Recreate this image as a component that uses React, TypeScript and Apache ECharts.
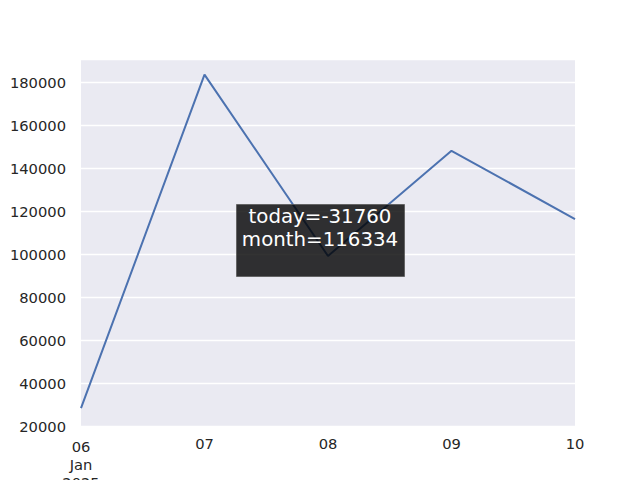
import React, { useEffect, useRef } from "react";
import * as echarts from "echarts";

const categories = ["06", "07", "08", "09", "10"];
const majorLabels: Record<string, string> = { "06": "06\nJan\n2025" };
const values = [28340, 183500, 99140, 148094, 116334];
const yTicks = [20000, 40000, 60000, 80000, 100000, 120000, 140000, 160000, 180000];
const annotationLines = ["today=-31760", "month=116334"];

const FONT = "DejaVu Sans";
const FS = 14.7;

export default function App() {
  const ref = useRef<HTMLDivElement>(null);
  useEffect(() => {
    if (!ref.current) return;
    const chart = echarts.init(ref.current, null, { renderer: "svg" });
    chart.setOption({
      animation: false,
      backgroundColor: "#ffffff",
      grid: {
        left: 81,
        right: 65,
        top: 59,
        bottom: 54,
        show: true,
        backgroundColor: "#EAEAF2",
        borderWidth: 0,
        containLabel: false,
        outerBoundsMode: "none",
      },
      xAxis: {
        type: "category",
        data: categories,
        boundaryGap: false,
        axisLine: { show: false },
        axisTick: { show: false },
        splitLine: { show: false },
        axisLabel: {
          margin: 11,
          interval: 0,
          color: "#262626",
          fontFamily: FONT,
          fontSize: FS,
          formatter: (v: string) => {
            if (majorLabels[v]) {
              return majorLabels[v]
                .split("\n")
                .map((s) => `{a|${s}}`)
                .join("\n");
            }
            return `{m|${v}}`;
          },
          rich: {
            a: { lineHeight: 18, fontSize: FS, fontFamily: FONT, color: "#262626" },
            m: { lineHeight: 13, fontSize: FS, fontFamily: FONT, color: "#262626" },
          },
        },
      },
      yAxis: {
        type: "value",
        min: yTicks[0],
        max: 190800,
        interval: 20000,
        axisLine: { show: false },
        axisTick: { show: false },
        splitLine: { show: true, lineStyle: { color: "#ffffff", width: 1.3 } },
        axisLabel: {
          margin: 15,
          color: "#262626",
          fontFamily: FONT,
          fontSize: FS,
          showMaxLabel: false,
          formatter: (v: number) => (yTicks.includes(v) ? String(v) : ""),
        },
      },
      series: [
        {
          type: "line",
          data: values,
          symbol: "none",
          lineStyle: { color: "#4C72B0", width: 2 },
          z: 2,
        },
      ],
      graphic: [
        {
          type: "rect",
          z: 100,
          shape: { x: 236.5, y: 204.5, width: 168, height: 72 },
          style: { fill: "rgba(0,0,0,0.8)", stroke: "rgba(90,90,90,0.8)", lineWidth: 1 },
        },
        {
          type: "text",
          z: 101,
          x: 320,
          y: 205,
          style: {
            text: annotationLines.join("\n"),
            fill: "#ffffff",
            font: `19.8px "${FONT}"`,
            fontFamily: FONT,
            fontSize: 19.8,
            lineHeight: 23,
            align: "center",
            verticalAlign: "top",
          },
        },
      ],
    });
    return () => chart.dispose();
  }, []);
  return <div ref={ref} style={{ width: 640, height: 480, position: "absolute", left: 0, top: 0 }} />;
}
